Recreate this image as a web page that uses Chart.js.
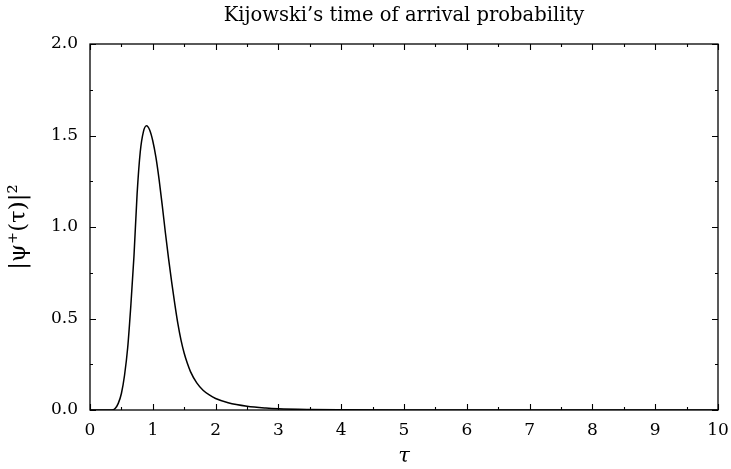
<!DOCTYPE html>
<html>
<head>
<meta charset="utf-8">
<script src="https://cdn.jsdelivr.net/npm/chart.js@4.4.1/dist/chart.umd.min.js"></script>
<style>
html,body{margin:0;padding:0;background:#fff;}
canvas{display:block;}
</style>
</head>
<body>
<canvas id="c" width="731" height="469"></canvas>
<script>
const chartTitle = "Kijowski\u2019s time of arrival probability";
const xTitle = "\u03C4";
const yTitle = "|\u03C8\u207A(\u03C4)|\u00B2";
const tau  = [0, 0.2, 0.35, 0.40, 0.45, 0.50, 0.55, 0.60, 0.65, 0.70, 0.75, 0.80, 0.85, 0.90, 0.95, 1.00, 1.05, 1.10, 1.15, 1.20, 1.25, 1.30, 1.35, 1.40, 1.45, 1.50, 1.55, 1.60, 1.70, 1.80, 1.90, 2.00, 2.20, 2.50, 2.80, 3.00, 3.50, 4.00, 5.00, 6.00, 7.00, 8.00, 9.00, 10.00];
const prob = [0, 0, 0.0, 0.008, 0.036, 0.09, 0.19, 0.34, 0.57, 0.84, 1.18, 1.41, 1.52, 1.553, 1.53, 1.47, 1.38, 1.26, 1.12, 0.97, 0.83, 0.70, 0.58, 0.47, 0.38, 0.31, 0.255, 0.21, 0.148, 0.108, 0.082, 0.063, 0.040, 0.021, 0.011, 0.007, 0.003, 0.0015, 0.0005, 0, 0, 0, 0, 0];
const xTicks = [0,1,2,3,4,5,6,7,8,9,10];
const yTicks = [0, 0.5, 1.0, 1.5, 2.0];

const FONT = "'DejaVu Serif', 'Liberation Serif', serif";

const frameTicks = {
  id: 'frameTicks',
  afterDraw(chart) {
    const {ctx, chartArea: a, scales: {x, y}} = chart;
    ctx.save();
    ctx.strokeStyle = '#000';
    ctx.lineWidth = 1.3;
    ctx.strokeRect(a.left, a.top, a.right - a.left, a.bottom - a.top);
    ctx.lineWidth = 1.1;
    ctx.beginPath();
    for (let v = 0; v <= 10.0001; v += 0.5) {
      const px = Math.round(x.getPixelForValue(v)) + 0.5;
      const L = (Math.abs(v - Math.round(v)) < 1e-6) ? 6 : 3;
      ctx.moveTo(px, a.bottom); ctx.lineTo(px, a.bottom - L);
      ctx.moveTo(px, a.top); ctx.lineTo(px, a.top + L);
    }
    for (let v = 0; v <= 2.0001; v += 0.25) {
      const py = Math.round(y.getPixelForValue(v)) + 0.5;
      const L = (Math.abs(v * 2 - Math.round(v * 2)) < 1e-6) ? 6 : 3;
      ctx.moveTo(a.left, py); ctx.lineTo(a.left + L, py);
      ctx.moveTo(a.right, py); ctx.lineTo(a.right - L, py);
    }
    ctx.stroke();
    ctx.restore();
  }
};

new Chart(document.getElementById('c'), {
  type: 'line',
  data: {
    datasets: [{
      data: tau.map((t, i) => ({x: t, y: prob[i]})),
      borderColor: '#000',
      borderWidth: 1.5,
      pointRadius: 0,
      fill: false,
      cubicInterpolationMode: 'monotone'
    }]
  },
  options: {
    responsive: false,
    animation: false,
    devicePixelRatio: 1,
    layout: {padding: {top: 2, right: 13, bottom: 0, left: 0}},
    plugins: {
      legend: {display: false},
      tooltip: {enabled: false},
      title: {
        display: true,
        fullSize: false,
        text: chartTitle,
        color: '#000',
        font: {family: FONT, size: 19.5, weight: 'normal', lineHeight: 1.2},
        padding: {top: 2, bottom: 16.6}
      }
    },
    scales: {
      x: {
        type: 'linear',
        min: 0, max: 10,
        afterFit(s) { s.height = 59; s.paddingLeft = 0; s.paddingRight = 0; },
        afterBuildTicks(s) { s.ticks = xTicks.map(v => ({value: v})); },
        grid: {display: false, drawTicks: false},
        border: {display: false},
        ticks: {color: '#000', padding: 10, maxRotation: 0, autoSkip: false,
                font: {family: FONT, size: 17}, callback: v => String(v)},
        title: {display: true, text: xTitle, color: '#000', padding: {top: 0, bottom: 0},
                font: {family: FONT, size: 21, style: 'italic'}}
      },
      y: {
        type: 'linear',
        min: 0, max: 2,
        afterFit(s) { s.width = 90; s.paddingTop = 0; s.paddingBottom = 0; },
        afterBuildTicks(s) { s.ticks = yTicks.map(v => ({value: v})); },
        grid: {display: false, drawTicks: false},
        border: {display: false},
        ticks: {color: '#000', padding: 12, autoSkip: false,
                font: {family: FONT, size: 17}, callback: v => Number(v).toFixed(1)},
        title: {display: true, text: yTitle, color: '#000', padding: {top: 5, bottom: 0},
                font: {family: FONT, size: 23}}
      }
    }
  },
  plugins: [frameTicks]
});
</script>
</body>
</html>
